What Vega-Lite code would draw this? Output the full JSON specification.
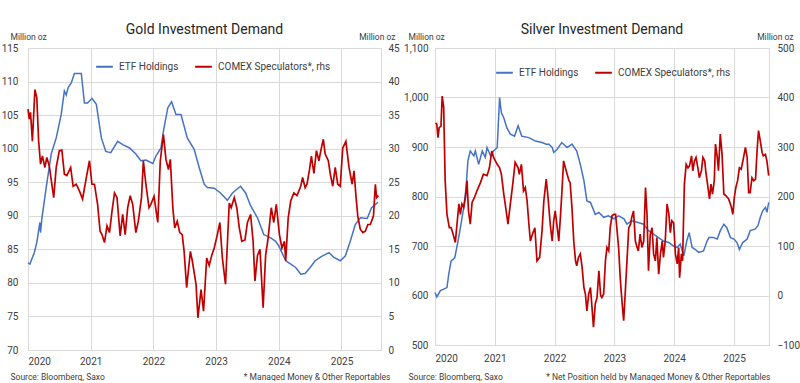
{
"$schema": "https://vega.github.io/schema/vega-lite/v6.json",
"background": "white",
"padding": {"left": 0, "top": 22, "right": 0, "bottom": 0},
"spacing": 3,
"datasets": {
"gold": [
{"series":"ETF Holdings","year":2020.00,"value":83.0},{"series":"ETF Holdings","year":2020.03,"value":82.8},{"series":"ETF Holdings","year":2020.10,"value":84.5},{"series":"ETF Holdings","year":2020.14,"value":86.0},{"series":"ETF Holdings","year":2020.19,"value":89.0},{"series":"ETF Holdings","year":2020.20,"value":87.5},{"series":"ETF Holdings","year":2020.22,"value":89.5},{"series":"ETF Holdings","year":2020.29,"value":94.2},{"series":"ETF Holdings","year":2020.37,"value":99.2},{"series":"ETF Holdings","year":2020.45,"value":101.6},{"series":"ETF Holdings","year":2020.53,"value":105.1},{"series":"ETF Holdings","year":2020.58,"value":108.6},{"series":"ETF Holdings","year":2020.61,"value":108.0},{"series":"ETF Holdings","year":2020.64,"value":109.1},{"series":"ETF Holdings","year":2020.69,"value":109.8},{"series":"ETF Holdings","year":2020.74,"value":111.2},{"series":"ETF Holdings","year":2020.85,"value":111.2},{"series":"ETF Holdings","year":2020.90,"value":106.8},{"series":"ETF Holdings","year":2020.95,"value":106.8},{"series":"ETF Holdings","year":2021.02,"value":107.5},{"series":"ETF Holdings","year":2021.09,"value":106.6},{"series":"ETF Holdings","year":2021.17,"value":101.6},{"series":"ETF Holdings","year":2021.24,"value":99.6},{"series":"ETF Holdings","year":2021.32,"value":99.4},{"series":"ETF Holdings","year":2021.43,"value":101.1},{"series":"ETF Holdings","year":2021.51,"value":100.6},{"series":"ETF Holdings","year":2021.62,"value":100.1},{"series":"ETF Holdings","year":2021.72,"value":99.2},{"series":"ETF Holdings","year":2021.80,"value":98.2},{"series":"ETF Holdings","year":2021.88,"value":98.3},{"series":"ETF Holdings","year":2021.99,"value":97.8},{"series":"ETF Holdings","year":2022.04,"value":98.9},{"series":"ETF Holdings","year":2022.12,"value":100.1},{"series":"ETF Holdings","year":2022.16,"value":102.6},{"series":"ETF Holdings","year":2022.23,"value":106.1},{"series":"ETF Holdings","year":2022.29,"value":107.0},{"series":"ETF Holdings","year":2022.36,"value":105.1},{"series":"ETF Holdings","year":2022.44,"value":105.1},{"series":"ETF Holdings","year":2022.54,"value":101.6},{"series":"ETF Holdings","year":2022.65,"value":99.9},{"series":"ETF Holdings","year":2022.73,"value":97.2},{"series":"ETF Holdings","year":2022.81,"value":94.7},{"series":"ETF Holdings","year":2022.86,"value":94.2},{"series":"ETF Holdings","year":2022.97,"value":94.1},{"series":"ETF Holdings","year":2023.07,"value":93.4},{"series":"ETF Holdings","year":2023.18,"value":92.3},{"series":"ETF Holdings","year":2023.26,"value":93.4},{"series":"ETF Holdings","year":2023.39,"value":94.4},{"series":"ETF Holdings","year":2023.47,"value":93.4},{"series":"ETF Holdings","year":2023.55,"value":91.5},{"series":"ETF Holdings","year":2023.66,"value":89.7},{"series":"ETF Holdings","year":2023.76,"value":87.2},{"series":"ETF Holdings","year":2023.87,"value":86.7},{"series":"ETF Holdings","year":2023.95,"value":86.2},{"series":"ETF Holdings","year":2024.00,"value":85.5},{"series":"ETF Holdings","year":2024.11,"value":83.3},{"series":"ETF Holdings","year":2024.19,"value":82.8},{"series":"ETF Holdings","year":2024.27,"value":82.3},{"series":"ETF Holdings","year":2024.35,"value":81.3},{"series":"ETF Holdings","year":2024.42,"value":81.4},{"series":"ETF Holdings","year":2024.50,"value":82.3},{"series":"ETF Holdings","year":2024.58,"value":83.3},{"series":"ETF Holdings","year":2024.69,"value":84.0},{"series":"ETF Holdings","year":2024.80,"value":84.5},{"series":"ETF Holdings","year":2024.88,"value":83.8},{"series":"ETF Holdings","year":2024.98,"value":83.3},{"series":"ETF Holdings","year":2025.06,"value":84.0},{"series":"ETF Holdings","year":2025.14,"value":86.2},{"series":"ETF Holdings","year":2025.22,"value":88.7},{"series":"ETF Holdings","year":2025.30,"value":89.7},{"series":"ETF Holdings","year":2025.41,"value":89.6},{"series":"ETF Holdings","year":2025.48,"value":91.2},{"series":"ETF Holdings","year":2025.58,"value":92.0},
{"series":"COMEX Speculators*, rhs","year":2020.00,"value":35.9},{"series":"COMEX Speculators*, rhs","year":2020.02,"value":34.4},{"series":"COMEX Speculators*, rhs","year":2020.04,"value":35.4},{"series":"COMEX Speculators*, rhs","year":2020.07,"value":31.1},{"series":"COMEX Speculators*, rhs","year":2020.11,"value":38.8},{"series":"COMEX Speculators*, rhs","year":2020.14,"value":37.6},{"series":"COMEX Speculators*, rhs","year":2020.17,"value":31.1},{"series":"COMEX Speculators*, rhs","year":2020.20,"value":27.7},{"series":"COMEX Speculators*, rhs","year":2020.23,"value":28.9},{"series":"COMEX Speculators*, rhs","year":2020.27,"value":27.2},{"series":"COMEX Speculators*, rhs","year":2020.30,"value":28.7},{"series":"COMEX Speculators*, rhs","year":2020.34,"value":27.4},{"series":"COMEX Speculators*, rhs","year":2020.41,"value":22.7},{"series":"COMEX Speculators*, rhs","year":2020.45,"value":27.2},{"series":"COMEX Speculators*, rhs","year":2020.50,"value":29.7},{"series":"COMEX Speculators*, rhs","year":2020.54,"value":29.8},{"series":"COMEX Speculators*, rhs","year":2020.58,"value":26.2},{"series":"COMEX Speculators*, rhs","year":2020.62,"value":26.0},{"series":"COMEX Speculators*, rhs","year":2020.68,"value":27.2},{"series":"COMEX Speculators*, rhs","year":2020.72,"value":24.4},{"series":"COMEX Speculators*, rhs","year":2020.77,"value":24.7},{"series":"COMEX Speculators*, rhs","year":2020.82,"value":23.7},{"series":"COMEX Speculators*, rhs","year":2020.87,"value":22.5},{"series":"COMEX Speculators*, rhs","year":2020.93,"value":25.7},{"series":"COMEX Speculators*, rhs","year":2020.98,"value":28.2},{"series":"COMEX Speculators*, rhs","year":2021.02,"value":24.7},{"series":"COMEX Speculators*, rhs","year":2021.06,"value":24.7},{"series":"COMEX Speculators*, rhs","year":2021.11,"value":21.7},{"series":"COMEX Speculators*, rhs","year":2021.15,"value":17.7},{"series":"COMEX Speculators*, rhs","year":2021.18,"value":17.2},{"series":"COMEX Speculators*, rhs","year":2021.22,"value":16.0},{"series":"COMEX Speculators*, rhs","year":2021.26,"value":18.5},{"series":"COMEX Speculators*, rhs","year":2021.30,"value":17.5},{"series":"COMEX Speculators*, rhs","year":2021.34,"value":20.7},{"series":"COMEX Speculators*, rhs","year":2021.38,"value":23.4},{"series":"COMEX Speculators*, rhs","year":2021.42,"value":22.7},{"series":"COMEX Speculators*, rhs","year":2021.47,"value":17.0},{"series":"COMEX Speculators*, rhs","year":2021.51,"value":20.2},{"series":"COMEX Speculators*, rhs","year":2021.55,"value":17.2},{"series":"COMEX Speculators*, rhs","year":2021.59,"value":21.2},{"series":"COMEX Speculators*, rhs","year":2021.63,"value":23.0},{"series":"COMEX Speculators*, rhs","year":2021.67,"value":21.7},{"series":"COMEX Speculators*, rhs","year":2021.72,"value":17.5},{"series":"COMEX Speculators*, rhs","year":2021.76,"value":19.2},{"series":"COMEX Speculators*, rhs","year":2021.81,"value":22.7},{"series":"COMEX Speculators*, rhs","year":2021.84,"value":28.2},{"series":"COMEX Speculators*, rhs","year":2021.88,"value":24.7},{"series":"COMEX Speculators*, rhs","year":2021.93,"value":21.2},{"series":"COMEX Speculators*, rhs","year":2021.96,"value":21.7},{"series":"COMEX Speculators*, rhs","year":2022.01,"value":22.9},{"series":"COMEX Speculators*, rhs","year":2022.07,"value":19.0},{"series":"COMEX Speculators*, rhs","year":2022.11,"value":28.2},{"series":"COMEX Speculators*, rhs","year":2022.16,"value":32.1},{"series":"COMEX Speculators*, rhs","year":2022.20,"value":28.4},{"series":"COMEX Speculators*, rhs","year":2022.24,"value":26.9},{"series":"COMEX Speculators*, rhs","year":2022.27,"value":28.4},{"series":"COMEX Speculators*, rhs","year":2022.31,"value":21.2},{"series":"COMEX Speculators*, rhs","year":2022.34,"value":18.2},{"series":"COMEX Speculators*, rhs","year":2022.38,"value":19.2},{"series":"COMEX Speculators*, rhs","year":2022.42,"value":17.5},{"series":"COMEX Speculators*, rhs","year":2022.46,"value":17.2},{"series":"COMEX Speculators*, rhs","year":2022.49,"value":14.7},{"series":"COMEX Speculators*, rhs","year":2022.53,"value":9.3},{"series":"COMEX Speculators*, rhs","year":2022.59,"value":14.7},{"series":"COMEX Speculators*, rhs","year":2022.62,"value":13.3},{"series":"COMEX Speculators*, rhs","year":2022.68,"value":9.8},{"series":"COMEX Speculators*, rhs","year":2022.71,"value":4.8},{"series":"COMEX Speculators*, rhs","year":2022.76,"value":9.0},{"series":"COMEX Speculators*, rhs","year":2022.80,"value":5.8},{"series":"COMEX Speculators*, rhs","year":2022.85,"value":13.7},{"series":"COMEX Speculators*, rhs","year":2022.89,"value":12.6},{"series":"COMEX Speculators*, rhs","year":2022.93,"value":14.1},{"series":"COMEX Speculators*, rhs","year":2022.97,"value":15.2},{"series":"COMEX Speculators*, rhs","year":2023.02,"value":17.2},{"series":"COMEX Speculators*, rhs","year":2023.06,"value":19.0},{"series":"COMEX Speculators*, rhs","year":2023.10,"value":13.7},{"series":"COMEX Speculators*, rhs","year":2023.15,"value":9.8},{"series":"COMEX Speculators*, rhs","year":2023.21,"value":21.9},{"series":"COMEX Speculators*, rhs","year":2023.24,"value":21.2},{"series":"COMEX Speculators*, rhs","year":2023.29,"value":22.7},{"series":"COMEX Speculators*, rhs","year":2023.33,"value":21.2},{"series":"COMEX Speculators*, rhs","year":2023.37,"value":18.2},{"series":"COMEX Speculators*, rhs","year":2023.41,"value":16.2},{"series":"COMEX Speculators*, rhs","year":2023.46,"value":16.4},{"series":"COMEX Speculators*, rhs","year":2023.50,"value":19.0},{"series":"COMEX Speculators*, rhs","year":2023.55,"value":20.2},{"series":"COMEX Speculators*, rhs","year":2023.59,"value":16.2},{"series":"COMEX Speculators*, rhs","year":2023.62,"value":10.3},{"series":"COMEX Speculators*, rhs","year":2023.66,"value":14.1},{"series":"COMEX Speculators*, rhs","year":2023.70,"value":15.0},{"series":"COMEX Speculators*, rhs","year":2023.75,"value":6.3},{"series":"COMEX Speculators*, rhs","year":2023.79,"value":14.1},{"series":"COMEX Speculators*, rhs","year":2023.83,"value":16.7},{"series":"COMEX Speculators*, rhs","year":2023.88,"value":21.2},{"series":"COMEX Speculators*, rhs","year":2023.92,"value":19.0},{"series":"COMEX Speculators*, rhs","year":2023.96,"value":21.7},{"series":"COMEX Speculators*, rhs","year":2024.01,"value":17.2},{"series":"COMEX Speculators*, rhs","year":2024.05,"value":15.2},{"series":"COMEX Speculators*, rhs","year":2024.09,"value":16.2},{"series":"COMEX Speculators*, rhs","year":2024.11,"value":13.3},{"series":"COMEX Speculators*, rhs","year":2024.15,"value":19.7},{"series":"COMEX Speculators*, rhs","year":2024.19,"value":22.2},{"series":"COMEX Speculators*, rhs","year":2024.24,"value":23.4},{"series":"COMEX Speculators*, rhs","year":2024.29,"value":23.0},{"series":"COMEX Speculators*, rhs","year":2024.35,"value":24.4},{"series":"COMEX Speculators*, rhs","year":2024.38,"value":25.7},{"series":"COMEX Speculators*, rhs","year":2024.42,"value":24.2},{"series":"COMEX Speculators*, rhs","year":2024.45,"value":24.7},{"series":"COMEX Speculators*, rhs","year":2024.49,"value":26.9},{"series":"COMEX Speculators*, rhs","year":2024.52,"value":28.9},{"series":"COMEX Speculators*, rhs","year":2024.56,"value":26.3},{"series":"COMEX Speculators*, rhs","year":2024.60,"value":29.7},{"series":"COMEX Speculators*, rhs","year":2024.64,"value":28.2},{"series":"COMEX Speculators*, rhs","year":2024.67,"value":29.7},{"series":"COMEX Speculators*, rhs","year":2024.71,"value":31.4},{"series":"COMEX Speculators*, rhs","year":2024.74,"value":29.2},{"series":"COMEX Speculators*, rhs","year":2024.79,"value":28.2},{"series":"COMEX Speculators*, rhs","year":2024.82,"value":26.3},{"series":"COMEX Speculators*, rhs","year":2024.86,"value":24.4},{"series":"COMEX Speculators*, rhs","year":2024.90,"value":27.2},{"series":"COMEX Speculators*, rhs","year":2024.94,"value":24.7},{"series":"COMEX Speculators*, rhs","year":2024.98,"value":24.4},{"series":"COMEX Speculators*, rhs","year":2025.02,"value":30.1},{"series":"COMEX Speculators*, rhs","year":2025.07,"value":31.1},{"series":"COMEX Speculators*, rhs","year":2025.12,"value":27.2},{"series":"COMEX Speculators*, rhs","year":2025.17,"value":24.7},{"series":"COMEX Speculators*, rhs","year":2025.20,"value":26.7},{"series":"COMEX Speculators*, rhs","year":2025.23,"value":23.0},{"series":"COMEX Speculators*, rhs","year":2025.26,"value":19.9},{"series":"COMEX Speculators*, rhs","year":2025.30,"value":18.0},{"series":"COMEX Speculators*, rhs","year":2025.34,"value":17.5},{"series":"COMEX Speculators*, rhs","year":2025.38,"value":17.7},{"series":"COMEX Speculators*, rhs","year":2025.42,"value":18.7},{"series":"COMEX Speculators*, rhs","year":2025.46,"value":18.7},{"series":"COMEX Speculators*, rhs","year":2025.48,"value":19.2},{"series":"COMEX Speculators*, rhs","year":2025.51,"value":20.0},{"series":"COMEX Speculators*, rhs","year":2025.54,"value":24.7},{"series":"COMEX Speculators*, rhs","year":2025.56,"value":22.7},{"series":"COMEX Speculators*, rhs","year":2025.59,"value":23.0}
],
"silver": [
{"series":"ETF Holdings","year":2020.00,"value":606},{"series":"ETF Holdings","year":2020.03,"value":597},{"series":"ETF Holdings","year":2020.09,"value":610},{"series":"ETF Holdings","year":2020.145,"value":613},{"series":"ETF Holdings","year":2020.20,"value":616},{"series":"ETF Holdings","year":2020.23,"value":643},{"series":"ETF Holdings","year":2020.27,"value":670},{"series":"ETF Holdings","year":2020.33,"value":676},{"series":"ETF Holdings","year":2020.385,"value":710},{"series":"ETF Holdings","year":2020.425,"value":737},{"series":"ETF Holdings","year":2020.48,"value":778},{"series":"ETF Holdings","year":2020.52,"value":818},{"series":"ETF Holdings","year":2020.55,"value":872},{"series":"ETF Holdings","year":2020.59,"value":892},{"series":"ETF Holdings","year":2020.65,"value":882},{"series":"ETF Holdings","year":2020.675,"value":892},{"series":"ETF Holdings","year":2020.73,"value":865},{"series":"ETF Holdings","year":2020.79,"value":892},{"series":"ETF Holdings","year":2020.84,"value":879},{"series":"ETF Holdings","year":2020.87,"value":899},{"series":"ETF Holdings","year":2020.93,"value":882},{"series":"ETF Holdings","year":2020.98,"value":892},{"series":"ETF Holdings","year":2021.04,"value":899},{"series":"ETF Holdings","year":2021.08,"value":1000},{"series":"ETF Holdings","year":2021.11,"value":969},{"series":"ETF Holdings","year":2021.15,"value":959},{"series":"ETF Holdings","year":2021.20,"value":939},{"series":"ETF Holdings","year":2021.26,"value":926},{"series":"ETF Holdings","year":2021.33,"value":922},{"series":"ETF Holdings","year":2021.39,"value":943},{"series":"ETF Holdings","year":2021.45,"value":922},{"series":"ETF Holdings","year":2021.57,"value":919},{"series":"ETF Holdings","year":2021.68,"value":912},{"series":"ETF Holdings","year":2021.79,"value":909},{"series":"ETF Holdings","year":2021.87,"value":905},{"series":"ETF Holdings","year":2021.90,"value":906},{"series":"ETF Holdings","year":2021.96,"value":899},{"series":"ETF Holdings","year":2021.985,"value":889},{"series":"ETF Holdings","year":2022.04,"value":895},{"series":"ETF Holdings","year":2022.12,"value":909},{"series":"ETF Holdings","year":2022.21,"value":899},{"series":"ETF Holdings","year":2022.29,"value":906},{"series":"ETF Holdings","year":2022.37,"value":892},{"series":"ETF Holdings","year":2022.43,"value":865},{"series":"ETF Holdings","year":2022.49,"value":832},{"series":"ETF Holdings","year":2022.54,"value":791},{"series":"ETF Holdings","year":2022.60,"value":788},{"series":"ETF Holdings","year":2022.68,"value":764},{"series":"ETF Holdings","year":2022.74,"value":768},{"series":"ETF Holdings","year":2022.82,"value":758},{"series":"ETF Holdings","year":2022.90,"value":761},{"series":"ETF Holdings","year":2022.99,"value":755},{"series":"ETF Holdings","year":2023.07,"value":761},{"series":"ETF Holdings","year":2023.16,"value":755},{"series":"ETF Holdings","year":2023.21,"value":744},{"series":"ETF Holdings","year":2023.29,"value":751},{"series":"ETF Holdings","year":2023.38,"value":748},{"series":"ETF Holdings","year":2023.49,"value":744},{"series":"ETF Holdings","year":2023.57,"value":731},{"series":"ETF Holdings","year":2023.69,"value":721},{"series":"ETF Holdings","year":2023.82,"value":710},{"series":"ETF Holdings","year":2023.91,"value":707},{"series":"ETF Holdings","year":2023.99,"value":700},{"series":"ETF Holdings","year":2024.05,"value":697},{"series":"ETF Holdings","year":2024.10,"value":704},{"series":"ETF Holdings","year":2024.16,"value":680},{"series":"ETF Holdings","year":2024.21,"value":710},{"series":"ETF Holdings","year":2024.25,"value":727},{"series":"ETF Holdings","year":2024.30,"value":697},{"series":"ETF Holdings","year":2024.35,"value":693},{"series":"ETF Holdings","year":2024.41,"value":687},{"series":"ETF Holdings","year":2024.49,"value":690},{"series":"ETF Holdings","year":2024.55,"value":710},{"series":"ETF Holdings","year":2024.58,"value":717},{"series":"ETF Holdings","year":2024.66,"value":717},{"series":"ETF Holdings","year":2024.72,"value":714},{"series":"ETF Holdings","year":2024.77,"value":731},{"series":"ETF Holdings","year":2024.83,"value":744},{"series":"ETF Holdings","year":2024.88,"value":737},{"series":"ETF Holdings","year":2024.94,"value":717},{"series":"ETF Holdings","year":2025.00,"value":714},{"series":"ETF Holdings","year":2025.05,"value":707},{"series":"ETF Holdings","year":2025.09,"value":693},{"series":"ETF Holdings","year":2025.145,"value":707},{"series":"ETF Holdings","year":2025.22,"value":714},{"series":"ETF Holdings","year":2025.27,"value":731},{"series":"ETF Holdings","year":2025.35,"value":734},{"series":"ETF Holdings","year":2025.40,"value":741},{"series":"ETF Holdings","year":2025.44,"value":758},{"series":"ETF Holdings","year":2025.48,"value":771},{"series":"ETF Holdings","year":2025.525,"value":778},{"series":"ETF Holdings","year":2025.55,"value":768},{"series":"ETF Holdings","year":2025.58,"value":788},
{"series":"COMEX Speculators*, rhs","year":2020.01,"value":349},{"series":"COMEX Speculators*, rhs","year":2020.03,"value":346},{"series":"COMEX Speculators*, rhs","year":2020.05,"value":319},{"series":"COMEX Speculators*, rhs","year":2020.07,"value":339},{"series":"COMEX Speculators*, rhs","year":2020.10,"value":342},{"series":"COMEX Speculators*, rhs","year":2020.12,"value":403},{"series":"COMEX Speculators*, rhs","year":2020.145,"value":380},{"series":"COMEX Speculators*, rhs","year":2020.17,"value":232},{"series":"COMEX Speculators*, rhs","year":2020.20,"value":164},{"series":"COMEX Speculators*, rhs","year":2020.24,"value":137},{"series":"COMEX Speculators*, rhs","year":2020.27,"value":137},{"series":"COMEX Speculators*, rhs","year":2020.31,"value":121},{"series":"COMEX Speculators*, rhs","year":2020.34,"value":107},{"series":"COMEX Speculators*, rhs","year":2020.37,"value":147},{"series":"COMEX Speculators*, rhs","year":2020.40,"value":185},{"series":"COMEX Speculators*, rhs","year":2020.425,"value":164},{"series":"COMEX Speculators*, rhs","year":2020.45,"value":185},{"series":"COMEX Speculators*, rhs","year":2020.48,"value":178},{"series":"COMEX Speculators*, rhs","year":2020.51,"value":198},{"series":"COMEX Speculators*, rhs","year":2020.535,"value":232},{"series":"COMEX Speculators*, rhs","year":2020.56,"value":171},{"series":"COMEX Speculators*, rhs","year":2020.59,"value":144},{"series":"COMEX Speculators*, rhs","year":2020.62,"value":188},{"series":"COMEX Speculators*, rhs","year":2020.66,"value":198},{"series":"COMEX Speculators*, rhs","year":2020.70,"value":211},{"series":"COMEX Speculators*, rhs","year":2020.76,"value":228},{"series":"COMEX Speculators*, rhs","year":2020.81,"value":245},{"series":"COMEX Speculators*, rhs","year":2020.87,"value":242},{"series":"COMEX Speculators*, rhs","year":2020.91,"value":258},{"series":"COMEX Speculators*, rhs","year":2020.95,"value":292},{"series":"COMEX Speculators*, rhs","year":2020.98,"value":279},{"series":"COMEX Speculators*, rhs","year":2021.04,"value":265},{"series":"COMEX Speculators*, rhs","year":2021.08,"value":258},{"series":"COMEX Speculators*, rhs","year":2021.11,"value":245},{"series":"COMEX Speculators*, rhs","year":2021.15,"value":205},{"series":"COMEX Speculators*, rhs","year":2021.19,"value":171},{"series":"COMEX Speculators*, rhs","year":2021.22,"value":144},{"series":"COMEX Speculators*, rhs","year":2021.26,"value":185},{"series":"COMEX Speculators*, rhs","year":2021.30,"value":225},{"series":"COMEX Speculators*, rhs","year":2021.34,"value":269},{"series":"COMEX Speculators*, rhs","year":2021.39,"value":258},{"series":"COMEX Speculators*, rhs","year":2021.41,"value":245},{"series":"COMEX Speculators*, rhs","year":2021.445,"value":265},{"series":"COMEX Speculators*, rhs","year":2021.48,"value":211},{"series":"COMEX Speculators*, rhs","year":2021.51,"value":218},{"series":"COMEX Speculators*, rhs","year":2021.54,"value":191},{"series":"COMEX Speculators*, rhs","year":2021.57,"value":144},{"series":"COMEX Speculators*, rhs","year":2021.595,"value":110},{"series":"COMEX Speculators*, rhs","year":2021.63,"value":124},{"series":"COMEX Speculators*, rhs","year":2021.67,"value":137},{"series":"COMEX Speculators*, rhs","year":2021.705,"value":70},{"series":"COMEX Speculators*, rhs","year":2021.75,"value":77},{"series":"COMEX Speculators*, rhs","year":2021.79,"value":131},{"series":"COMEX Speculators*, rhs","year":2021.82,"value":191},{"series":"COMEX Speculators*, rhs","year":2021.86,"value":235},{"series":"COMEX Speculators*, rhs","year":2021.89,"value":198},{"series":"COMEX Speculators*, rhs","year":2021.93,"value":140},{"series":"COMEX Speculators*, rhs","year":2021.96,"value":110},{"series":"COMEX Speculators*, rhs","year":2021.985,"value":151},{"series":"COMEX Speculators*, rhs","year":2022.01,"value":171},{"series":"COMEX Speculators*, rhs","year":2022.04,"value":141},{"series":"COMEX Speculators*, rhs","year":2022.07,"value":110},{"series":"COMEX Speculators*, rhs","year":2022.10,"value":164},{"series":"COMEX Speculators*, rhs","year":2022.12,"value":205},{"series":"COMEX Speculators*, rhs","year":2022.15,"value":272},{"series":"COMEX Speculators*, rhs","year":2022.18,"value":258},{"series":"COMEX Speculators*, rhs","year":2022.21,"value":245},{"series":"COMEX Speculators*, rhs","year":2022.24,"value":232},{"series":"COMEX Speculators*, rhs","year":2022.26,"value":228},{"series":"COMEX Speculators*, rhs","year":2022.29,"value":178},{"series":"COMEX Speculators*, rhs","year":2022.32,"value":110},{"series":"COMEX Speculators*, rhs","year":2022.35,"value":70},{"series":"COMEX Speculators*, rhs","year":2022.37,"value":60},{"series":"COMEX Speculators*, rhs","year":2022.40,"value":77},{"series":"COMEX Speculators*, rhs","year":2022.43,"value":84},{"series":"COMEX Speculators*, rhs","year":2022.46,"value":57},{"series":"COMEX Speculators*, rhs","year":2022.49,"value":16},{"series":"COMEX Speculators*, rhs","year":2022.515,"value":3},{"series":"COMEX Speculators*, rhs","year":2022.54,"value":-31},{"series":"COMEX Speculators*, rhs","year":2022.57,"value":3},{"series":"COMEX Speculators*, rhs","year":2022.60,"value":16},{"series":"COMEX Speculators*, rhs","year":2022.625,"value":-24},{"series":"COMEX Speculators*, rhs","year":2022.65,"value":-64},{"series":"COMEX Speculators*, rhs","year":2022.68,"value":-17},{"series":"COMEX Speculators*, rhs","year":2022.71,"value":-4},{"series":"COMEX Speculators*, rhs","year":2022.74,"value":50},{"series":"COMEX Speculators*, rhs","year":2022.77,"value":0},{"series":"COMEX Speculators*, rhs","year":2022.79,"value":-4},{"series":"COMEX Speculators*, rhs","year":2022.82,"value":3},{"series":"COMEX Speculators*, rhs","year":2022.85,"value":70},{"series":"COMEX Speculators*, rhs","year":2022.875,"value":97},{"series":"COMEX Speculators*, rhs","year":2022.905,"value":90},{"series":"COMEX Speculators*, rhs","year":2022.93,"value":137},{"series":"COMEX Speculators*, rhs","year":2022.96,"value":161},{"series":"COMEX Speculators*, rhs","year":2022.99,"value":164},{"series":"COMEX Speculators*, rhs","year":2023.02,"value":164},{"series":"COMEX Speculators*, rhs","year":2023.04,"value":137},{"series":"COMEX Speculators*, rhs","year":2023.07,"value":97},{"series":"COMEX Speculators*, rhs","year":2023.10,"value":30},{"series":"COMEX Speculators*, rhs","year":2023.13,"value":-17},{"series":"COMEX Speculators*, rhs","year":2023.155,"value":-51},{"series":"COMEX Speculators*, rhs","year":2023.18,"value":3},{"series":"COMEX Speculators*, rhs","year":2023.21,"value":70},{"series":"COMEX Speculators*, rhs","year":2023.24,"value":137},{"series":"COMEX Speculators*, rhs","year":2023.27,"value":144},{"series":"COMEX Speculators*, rhs","year":2023.29,"value":158},{"series":"COMEX Speculators*, rhs","year":2023.32,"value":171},{"series":"COMEX Speculators*, rhs","year":2023.35,"value":110},{"series":"COMEX Speculators*, rhs","year":2023.38,"value":97},{"series":"COMEX Speculators*, rhs","year":2023.40,"value":90},{"series":"COMEX Speculators*, rhs","year":2023.43,"value":124},{"series":"COMEX Speculators*, rhs","year":2023.46,"value":97},{"series":"COMEX Speculators*, rhs","year":2023.49,"value":110},{"series":"COMEX Speculators*, rhs","year":2023.52,"value":218},{"series":"COMEX Speculators*, rhs","year":2023.545,"value":164},{"series":"COMEX Speculators*, rhs","year":2023.57,"value":50},{"series":"COMEX Speculators*, rhs","year":2023.60,"value":124},{"series":"COMEX Speculators*, rhs","year":2023.63,"value":137},{"series":"COMEX Speculators*, rhs","year":2023.655,"value":84},{"series":"COMEX Speculators*, rhs","year":2023.685,"value":70},{"series":"COMEX Speculators*, rhs","year":2023.71,"value":117},{"series":"COMEX Speculators*, rhs","year":2023.74,"value":43},{"series":"COMEX Speculators*, rhs","year":2023.77,"value":84},{"series":"COMEX Speculators*, rhs","year":2023.80,"value":110},{"series":"COMEX Speculators*, rhs","year":2023.82,"value":77},{"series":"COMEX Speculators*, rhs","year":2023.85,"value":110},{"series":"COMEX Speculators*, rhs","year":2023.88,"value":185},{"series":"COMEX Speculators*, rhs","year":2023.91,"value":165},{"series":"COMEX Speculators*, rhs","year":2023.935,"value":127},{"series":"COMEX Speculators*, rhs","year":2023.96,"value":151},{"series":"COMEX Speculators*, rhs","year":2023.99,"value":147},{"series":"COMEX Speculators*, rhs","year":2024.02,"value":84},{"series":"COMEX Speculators*, rhs","year":2024.05,"value":64},{"series":"COMEX Speculators*, rhs","year":2024.075,"value":97},{"series":"COMEX Speculators*, rhs","year":2024.09,"value":36},{"series":"COMEX Speculators*, rhs","year":2024.12,"value":84},{"series":"COMEX Speculators*, rhs","year":2024.14,"value":70},{"series":"COMEX Speculators*, rhs","year":2024.17,"value":225},{"series":"COMEX Speculators*, rhs","year":2024.20,"value":265},{"series":"COMEX Speculators*, rhs","year":2024.23,"value":258},{"series":"COMEX Speculators*, rhs","year":2024.255,"value":262},{"series":"COMEX Speculators*, rhs","year":2024.29,"value":282},{"series":"COMEX Speculators*, rhs","year":2024.31,"value":252},{"series":"COMEX Speculators*, rhs","year":2024.34,"value":272},{"series":"COMEX Speculators*, rhs","year":2024.365,"value":279},{"series":"COMEX Speculators*, rhs","year":2024.40,"value":255},{"series":"COMEX Speculators*, rhs","year":2024.42,"value":238},{"series":"COMEX Speculators*, rhs","year":2024.455,"value":252},{"series":"COMEX Speculators*, rhs","year":2024.48,"value":279},{"series":"COMEX Speculators*, rhs","year":2024.51,"value":272},{"series":"COMEX Speculators*, rhs","year":2024.53,"value":248},{"series":"COMEX Speculators*, rhs","year":2024.565,"value":218},{"series":"COMEX Speculators*, rhs","year":2024.59,"value":195},{"series":"COMEX Speculators*, rhs","year":2024.615,"value":225},{"series":"COMEX Speculators*, rhs","year":2024.64,"value":205},{"series":"COMEX Speculators*, rhs","year":2024.67,"value":232},{"series":"COMEX Speculators*, rhs","year":2024.69,"value":306},{"series":"COMEX Speculators*, rhs","year":2024.72,"value":279},{"series":"COMEX Speculators*, rhs","year":2024.74,"value":252},{"series":"COMEX Speculators*, rhs","year":2024.77,"value":326},{"series":"COMEX Speculators*, rhs","year":2024.80,"value":285},{"series":"COMEX Speculators*, rhs","year":2024.83,"value":205},{"series":"COMEX Speculators*, rhs","year":2024.87,"value":201},{"series":"COMEX Speculators*, rhs","year":2024.91,"value":195},{"series":"COMEX Speculators*, rhs","year":2024.95,"value":181},{"series":"COMEX Speculators*, rhs","year":2024.98,"value":164},{"series":"COMEX Speculators*, rhs","year":2025.005,"value":198},{"series":"COMEX Speculators*, rhs","year":2025.03,"value":218},{"series":"COMEX Speculators*, rhs","year":2025.06,"value":232},{"series":"COMEX Speculators*, rhs","year":2025.09,"value":258},{"series":"COMEX Speculators*, rhs","year":2025.12,"value":255},{"series":"COMEX Speculators*, rhs","year":2025.16,"value":279},{"series":"COMEX Speculators*, rhs","year":2025.19,"value":299},{"series":"COMEX Speculators*, rhs","year":2025.22,"value":279},{"series":"COMEX Speculators*, rhs","year":2025.245,"value":208},{"series":"COMEX Speculators*, rhs","year":2025.27,"value":208},{"series":"COMEX Speculators*, rhs","year":2025.30,"value":238},{"series":"COMEX Speculators*, rhs","year":2025.33,"value":232},{"series":"COMEX Speculators*, rhs","year":2025.36,"value":235},{"series":"COMEX Speculators*, rhs","year":2025.385,"value":292},{"series":"COMEX Speculators*, rhs","year":2025.41,"value":333},{"series":"COMEX Speculators*, rhs","year":2025.44,"value":312},{"series":"COMEX Speculators*, rhs","year":2025.47,"value":289},{"series":"COMEX Speculators*, rhs","year":2025.49,"value":282},{"series":"COMEX Speculators*, rhs","year":2025.525,"value":285},{"series":"COMEX Speculators*, rhs","year":2025.55,"value":272},{"series":"COMEX Speculators*, rhs","year":2025.58,"value":242}
]
},
"hconcat": [
{
"title": {"text": "Gold Investment Demand", "fontSize": 14, "fontWeight": "normal", "color": "#262626", "frame": "group", "anchor": "middle", "offset": -5},
"width": 353, "height": 302,
"data": {"name": "gold"},
"layer": [
{
"transform": [{"filter": "datum.series === 'ETF Holdings'"}],
"mark": {"type": "line", "strokeWidth": 1.5, "interpolate": "linear"},
"encoding": {
"x": {"field": "year", "type": "quantitative", "scale": {"domain": [2020, 2025.63], "nice": false, "zero": false},
"axis": {"orient": "bottom", "values": [2020, 2021, 2022, 2023, 2024, 2025], "format": "d", "grid": true, "labelPadding": 6, "title": "Source: Bloomberg, Saxo", "titleX": -18, "titleY": 29, "titleAlign": "left", "titleAnchor": null, "titleBaseline": "alphabetic", "titleFontSize": 8.5}},
"y": {"field": "value", "type": "quantitative", "scale": {"domain": [70, 115], "nice": false, "zero": false},
"axis": {"orient": "left", "values": [70, 75, 80, 85, 90, 95, 100, 105, 110, 115], "grid": true, "labelPadding": 10, "title": "Million oz", "titleAngle": 0, "titleX": -18, "titleY": -9, "titleAlign": "left", "titleBaseline": "alphabetic", "titleFontSize": 8.5}},
"color": {"field": "series", "type": "nominal", "scale": {"domain": ["ETF Holdings", "COMEX Speculators*, rhs"], "range": ["#4472C4", "#C00000"]},
"legend": {"orient": "none", "legendX": 67, "legendY": 9, "direction": "horizontal", "title": null, "symbolType": "stroke", "symbolStrokeWidth": 2, "symbolSize": 280, "labelFontSize": 10, "labelColor": "#404040", "columnPadding": 12, "labelOffset": 5}}
}
},
{
"transform": [{"filter": "datum.series !== 'ETF Holdings'"}],
"mark": {"type": "line", "strokeWidth": 1.7},
"encoding": {
"x": {"field": "year", "type": "quantitative",
"axis": {"orient": "bottom", "labels": false, "grid": false, "domain": false, "ticks": false, "title": "* Managed Money & Other Reportables", "titleX": 362, "titleY": 29, "titleAlign": "right", "titleAnchor": null, "titleBaseline": "alphabetic", "titleFontSize": 8.5}},
"y": {"field": "value", "type": "quantitative", "scale": {"domain": [0, 45], "nice": false, "zero": false},
"axis": {"orient": "right", "values": [0, 5, 10, 15, 20, 25, 30, 35, 40, 45], "grid": false, "labelPadding": 7, "title": "Million oz", "titleAngle": 0, "titleX": 14, "titleY": -9, "titleAlign": "right", "titleBaseline": "alphabetic", "titleFontSize": 8.5}},
"color": {"field": "series", "type": "nominal", "scale": {"domain": ["ETF Holdings", "COMEX Speculators*, rhs"], "range": ["#4472C4", "#C00000"]},
"legend": {"orient": "none", "legendX": 67, "legendY": 9, "direction": "horizontal", "title": null, "symbolType": "stroke", "symbolStrokeWidth": 2, "symbolSize": 280, "labelFontSize": 10, "labelColor": "#404040", "columnPadding": 12, "labelOffset": 5}}
}
}
],
"resolve": {"scale": {"y": "independent"}, "axis": {"x": "independent", "y": "independent"}}
},
{
"title": {"text": "Silver Investment Demand", "fontSize": 14, "fontWeight": "normal", "color": "#262626", "frame": "group", "anchor": "middle", "offset": -5},
"width": 334, "height": 297,
"data": {"name": "silver"},
"layer": [
{
"transform": [{"filter": "datum.series === 'ETF Holdings'"}],
"mark": {"type": "line", "strokeWidth": 1.5},
"encoding": {
"x": {"field": "year", "type": "quantitative", "scale": {"domain": [2020, 2025.585], "nice": false, "zero": false},
"axis": {"orient": "bottom", "values": [2020, 2021, 2022, 2023, 2024, 2025], "format": "d", "grid": true, "labelPadding": 8, "title": "Source: Bloomberg, Saxo", "titleX": -27, "titleY": 34, "titleAlign": "left", "titleAnchor": null, "titleBaseline": "alphabetic", "titleFontSize": 8.5}},
"y": {"field": "value", "type": "quantitative", "scale": {"domain": [500, 1100], "nice": false, "zero": false},
"axis": {"orient": "left", "values": [500, 600, 700, 800, 900, 1000, 1100], "format": ",d", "grid": true, "labelPadding": 7, "title": "Million oz", "titleAngle": 0, "titleX": -27, "titleY": -9, "titleAlign": "left", "titleBaseline": "alphabetic", "titleFontSize": 8.5}},
"color": {"field": "series", "type": "nominal", "scale": {"domain": ["ETF Holdings", "COMEX Speculators*, rhs"], "range": ["#4472C4", "#C00000"]},
"legend": {"orient": "none", "legendX": 60, "legendY": 15, "direction": "horizontal", "title": null, "symbolType": "stroke", "symbolStrokeWidth": 2, "symbolSize": 280, "labelFontSize": 10, "labelColor": "#404040", "columnPadding": 12, "labelOffset": 5}}
}
},
{
"transform": [{"filter": "datum.series !== 'ETF Holdings'"}],
"mark": {"type": "line", "strokeWidth": 1.7},
"encoding": {
"x": {"field": "year", "type": "quantitative",
"axis": {"orient": "bottom", "labels": false, "grid": false, "domain": false, "ticks": false, "title": "* Net  Position held by Managed Money & Other Reportables", "titleX": 335, "titleY": 34, "titleAlign": "right", "titleAnchor": null, "titleBaseline": "alphabetic", "titleFontSize": 8.5}},
"y": {"field": "value", "type": "quantitative", "scale": {"domain": [-100, 500], "nice": false, "zero": false},
"axis": {"orient": "right", "values": [-100, 0, 100, 200, 300, 400, 500], "format": "d", "grid": false, "labelPadding": 8, "title": "Million oz", "titleAngle": 0, "titleX": 24, "titleY": -9, "titleAlign": "right", "titleBaseline": "alphabetic", "titleFontSize": 8.5}},
"color": {"field": "series", "type": "nominal", "scale": {"domain": ["ETF Holdings", "COMEX Speculators*, rhs"], "range": ["#4472C4", "#C00000"]},
"legend": {"orient": "none", "legendX": 60, "legendY": 15, "direction": "horizontal", "title": null, "symbolType": "stroke", "symbolStrokeWidth": 2, "symbolSize": 280, "labelFontSize": 10, "labelColor": "#404040", "columnPadding": 12, "labelOffset": 5}}
}
}
],
"resolve": {"scale": {"y": "independent"}, "axis": {"x": "independent", "y": "independent"}}
}
],
"resolve": {"scale": {"color": "independent", "x": "independent", "y": "independent"}, "legend": {"color": "independent"}},
"config": {
"font": "Roboto",
"view": {"stroke": "#D9D9D9"},
"axis": {"labelColor": "#404040", "labelFontSize": 10, "titleColor": "#404040", "titleFontWeight": "normal", "gridColor": "#D9D9D9", "domain": false, "ticks": false},
"title": {"font": "Roboto"}
}
}
